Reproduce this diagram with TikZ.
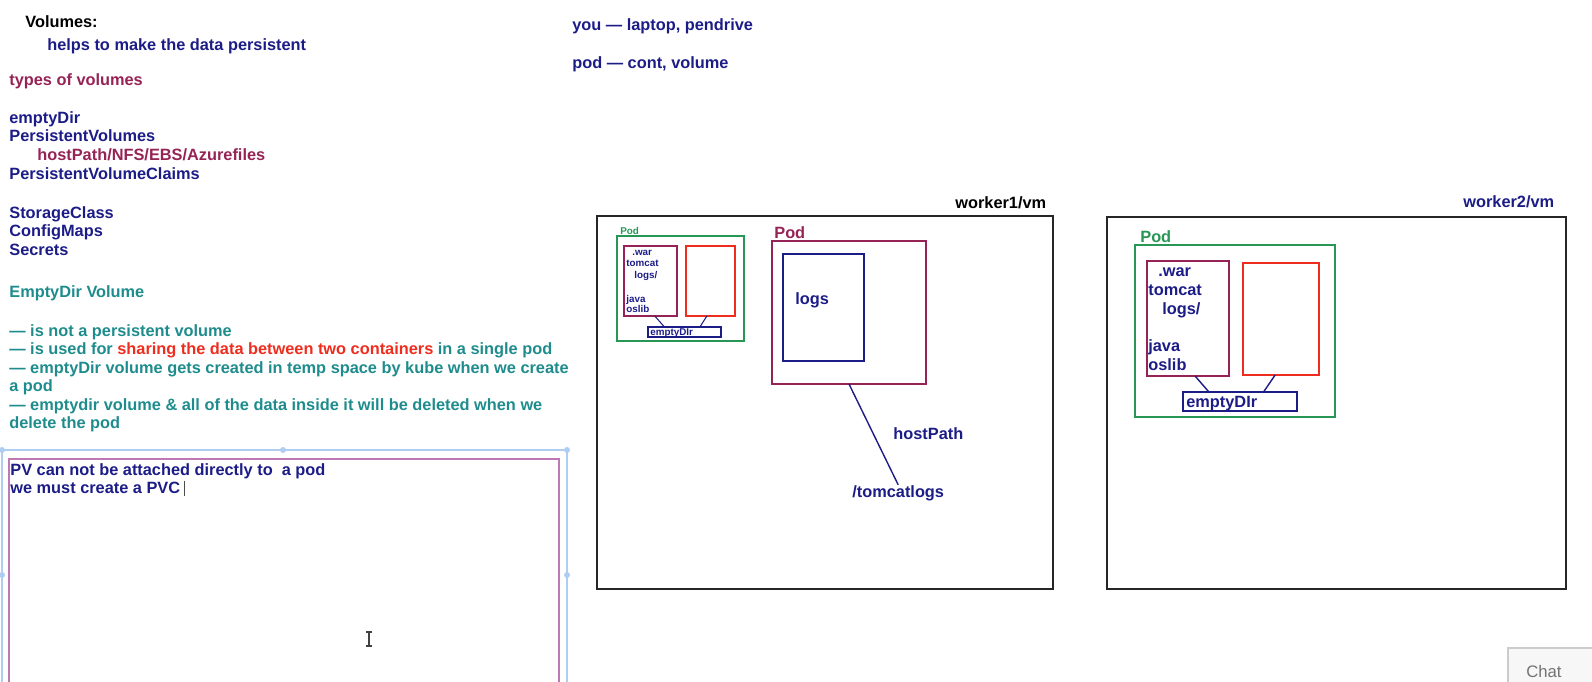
\documentclass[tikz,border=0pt]{standalone}
\usepackage{fontspec}
\setmainfont{Liberation Sans}
\usetikzlibrary{fit}
\definecolor{navy}{RGB}{28,28,135}
\definecolor{plum}{RGB}{150,35,85}
\definecolor{tealtxt}{RGB}{30,140,140}
\definecolor{redtxt}{RGB}{238,45,30}
\definecolor{podgreen}{RGB}{40,150,85}
\definecolor{selblue}{RGB}{175,205,240}
\definecolor{selpink}{RGB}{190,120,180}
\newcommand\fs{\fontsize{9.3}{10.6}\selectfont\bfseries}
\newcommand\fsmall{\fontsize{5.6}{6.5}\selectfont\bfseries}

\begin{document}
\begin{tikzpicture}[x=0.02cm, y=-0.02cm,
  txt/.style={anchor=base west, inner sep=0pt, font=\fs, text=navy},
  tiny/.style={txt, font=\fsmall},
  vmbox/.style={draw=black!85, line width=1.3pt, inner sep=0pt, outer sep=0pt},
  podbox/.style={draw=#1, line width=0.8pt, inner sep=0pt, outer sep=0pt},
  link/.style={draw=navy, line width=0.8pt}]
  \useasboundingbox (0,0) rectangle (1592,681);
  \clip (0,0) rectangle (1592,681);

  % notes on the left
  \node[txt, text=black] (vol) at (25,27) {Volumes:};
  \node[txt] (helps) at (47,50) {helps to make the data persistent};
  \node[txt, text=plum] (types) at (9,85) {types of volumes};
  \node[txt] (t1) at (9,123) {emptyDir};
  \node[txt] (t2) at (9,141) {PersistentVolumes};
  \node[txt, text=plum] (t3) at (37,160) {hostPath/NFS/EBS/Azurefiles};
  \node[txt] (t4) at (9,179) {PersistentVolumeClaims};
  \node[txt] (t5) at (9,218) {StorageClass};
  \node[txt] (t6) at (9,236) {ConfigMaps};
  \node[txt] (t7) at (9,255) {Secrets};
  \node[txt, text=tealtxt] (ev) at (9,297) {EmptyDir Volume};
  \node[txt, text=tealtxt] (n1) at (9,336) {— is not a persistent volume};
  \node[txt, text=tealtxt] (n2) at (9,354) {— is used for \textcolor{redtxt}{sharing the data between two containers} in a single pod};
  \node[txt, text=tealtxt] (n3) at (9,373) {— emptyDir volume gets created in temp space by kube when we create};
  \node[txt, text=tealtxt] (n4) at (9,391) {a pod};
  \node[txt, text=tealtxt] (n5) at (9,410) {— emptydir volume \& all of the data inside it will be deleted when we};
  \node[txt, text=tealtxt] (n6) at (9,428) {delete the pod};

  % text box being edited
  \draw[selblue, line width=0.6pt] (2,690) -- (2,450) -- (567,450) -- (567,690);
  \foreach \hx/\hy in {2/450, 283/450, 567/450, 2/575, 567/575}
    \fill[selblue] (\hx,\hy) circle (3);
  \node[draw=selpink, line width=0.6pt, inner sep=0pt, fit={(9,459) (559,700)}] (pvbox) {};
  \node[txt] (pv1) at (10,475) {PV can not be attached directly to\ \ a pod};
  \node[txt] (pv2) at (10,493) {we must create a PVC};
  \draw[black!70, line width=0.5pt] (pv2.base east) ++(4,3) -- ++(0,-15);
  \draw[black!75, line width=0.6pt] (366,632) -- (372,632) (369,632) -- (369,646) (366,646) -- (372,646);

  \node[txt] (you) at (572,30) {you — laptop, pendrive};
  \node[txt] (podc) at (572,68) {pod — cont, volume};

  % worker1
  \node[vmbox, fit={(597,216) (1053,589)}] (w1) {};
  \node[txt, text=black] (w1l) at (955,208) {worker1/vm};

  \node[podbox=podgreen, line width=0.6pt, fit={(617,236) (744,341)}] (pA) {};
  \node[tiny, text=podgreen] (pAl) at (620,234) {Pod};
  \node[podbox=plum, line width=0.6pt, fit={(624,246) (677,316)}] (cA1) {};
  \node[podbox=redtxt, line width=0.6pt, fit={(686,246) (735,316)}] (cA2) {};
  \node[podbox=navy, line width=0.6pt, fit={(648,327) (721,337)}] (edA) {};
  \node[tiny] (edAl) at (650,335) {emptyDIr};
  \node[tiny] (a1) at (632,255) {.war};
  \node[tiny] (a2) at (626,266) {tomcat};
  \node[tiny] (a3) at (634,278) {logs/};
  \node[tiny] (a4) at (626,302) {java};
  \node[tiny] (a5) at (626,312) {oslib};
  \draw[link, line width=0.6pt] (cA1.-83) -- (edA.166);
  \draw[link, line width=0.6pt] (cA2.-96) -- (edA.18);

  \node[podbox=plum, line width=1pt, fit={(772,241) (926,384)}] (pB) {};
  \node[txt, text=plum] (pBl) at (774,238) {Pod};
  \node[podbox=navy, fit={(783,254) (864,361)}] (lgB) {};
  \node[txt] (lgBl) at (795,304) {logs};
  \node[txt] (hp) at (893,439) {hostPath};
  \node[txt] (tl) at (852,497) {/tomcatlogs};
  \draw[link] (pB.south) -- (tl.north);

  % worker2
  \node[vmbox, fit={(1107,217) (1566,589)}] (w2) {};
  \node[txt] (w2l) at (1463,207) {worker2/vm};

  \node[podbox=podgreen, fit={(1135,245) (1335,417)}] (pC) {};
  \node[txt, text=podgreen] (pCl) at (1140,242) {Pod};
  \node[podbox=plum, fit={(1147,261) (1229,376)}] (cC1) {};
  \node[podbox=redtxt, fit={(1243,263) (1319,375)}] (cC2) {};
  \node[podbox=navy, fit={(1183,392) (1297,411)}] (edC) {};
  \node[txt] (edCl) at (1186,407) {emptyDIr};
  \node[txt] (c1) at (1158,276) {.war};
  \node[txt] (c2) at (1148,295) {tomcat};
  \node[txt] (c3) at (1162,314) {logs/};
  \node[txt] (c4) at (1148,351) {java};
  \node[txt] (c5) at (1148,370) {oslib};
  \draw[link] (cC1.-83) -- (edC.163);
  \draw[link] (cC2.-96) -- (edC.22);

  % chat tab
  \node[draw=black!20, fill=black!3, line width=0.8pt, inner sep=0pt, fit={(1508,648) (1620,700)}] (chat) {};
  \node[anchor=base west, inner sep=0pt, font=\fontsize{9.5}{11}\selectfont, text=black!55] (chatl) at (1526,677) {Chat};
\end{tikzpicture}
\end{document}
